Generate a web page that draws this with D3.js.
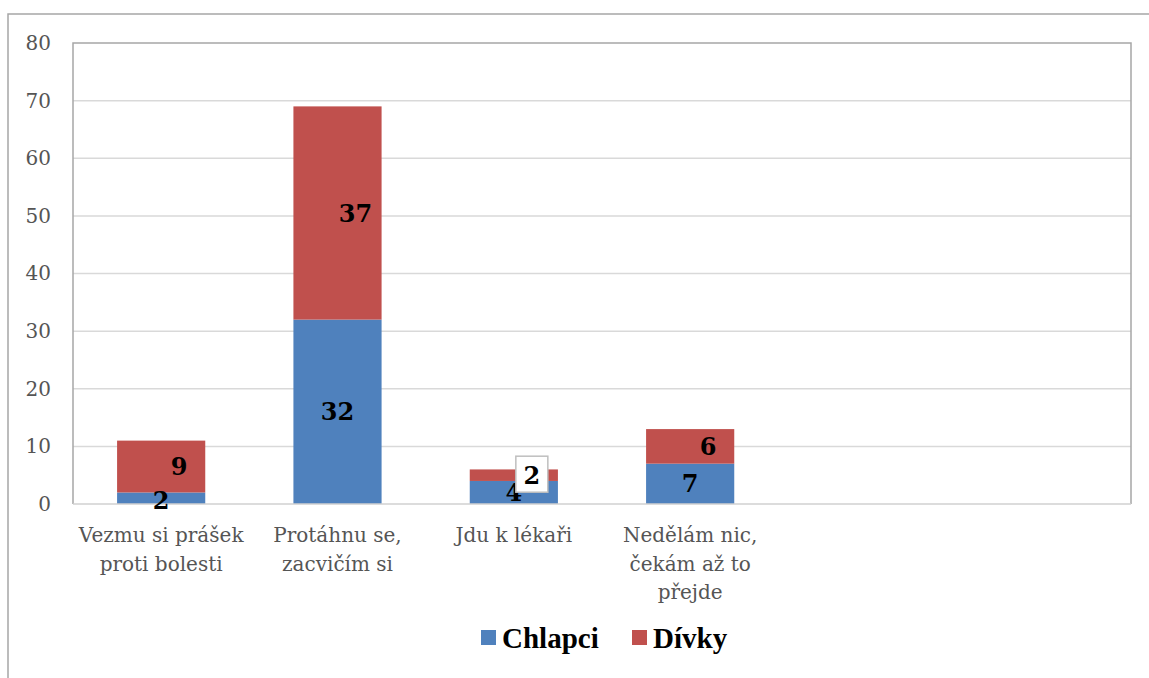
<!DOCTYPE html>
<html>
<head>
<meta charset="utf-8">
<script src="https://cdn.jsdelivr.net/npm/d3@7"></script>
<style>
  body { margin: 0; background: #fff; }
  svg { display: block; }
</style>
</head>
<body>
<script>
// data
var categories = ["Vezmu si prášek proti bolesti", "Protáhnu se, zacvičím si", "Jdu k lékaři", "Nedělám nic, čekám až to přejde", "(prázdné 1)", "(prázdné 2)"];
var tickLines = [["Vezmu si prášek", "proti bolesti"], ["Protáhnu se,", "zacvičím si"], ["Jdu k lékaři"], ["Nedělám nic,", "čekám až to", "přejde"], [], []];
var chlapci = [2, 32, 4, 7];
var divky = [9, 37, 2, 6];
var yTicks = [0, 10, 20, 30, 40, 50, 60, 70, 80];
var seriesNames = ["Chlapci", "Dívky"];
var colors = ["#4f81bd", "#c0504d"];

var width_SVG = 1149, height_SVG = 678;
var plot = {left: 73, top: 43, right: 1131, bottom: 504};

var svg = d3.select("body").append("svg")
    .attr("width", width_SVG)
    .attr("height", height_SVG);

// outer chart frame (only top and left edges visible)
svg.append("path")
    .attr("d", "M8," + height_SVG + "V14H" + width_SVG)
    .attr("fill", "none")
    .attr("stroke", "#a6a6a6")
    .attr("stroke-width", 1.5);

var x = d3.scaleBand()
    .domain(categories)
    .range([plot.left, plot.right])
    .paddingInner(0.5)
    .paddingOuter(0.25);

var y = d3.scaleLinear().domain([0, 80]).range([plot.bottom, plot.top]);

// gridlines
svg.append("g").selectAll("line")
    .data(yTicks.slice(1, -1))
    .enter().append("line")
    .attr("x1", plot.left).attr("x2", plot.right)
    .attr("y1", function(d){ return y(d); })
    .attr("y2", function(d){ return y(d); })
    .attr("stroke", "#d9d9d9")
    .attr("stroke-width", 1.5);

// plot area border
svg.append("path")
    .attr("d", "M" + plot.left + "," + plot.bottom + "V" + plot.top + "H" + plot.right + "V" + plot.bottom)
    .attr("fill", "none")
    .attr("stroke", "#a6a6a6")
    .attr("stroke-width", 1.5);

// y axis labels
var yAxis = d3.axisLeft(y).tickValues(yTicks).tickSize(0).tickPadding(22);
var gy = svg.append("g")
    .attr("transform", "translate(" + plot.left + ",0)")
    .call(yAxis);
gy.select(".domain").remove();
gy.selectAll("text")
    .attr("font-family", "'DejaVu Serif', serif")
    .attr("font-size", 20)
    .attr("fill", "#555");

// stacked data
var rows = chlapci.map(function(c, i){ return {cat: categories[i], Chlapci: c, "Dívky": divky[i]}; });
var stack = d3.stack().keys(seriesNames)(rows);

var layers = svg.append("g").selectAll("g")
    .data(stack)
    .enter().append("g")
    .attr("fill", function(d, i){ return colors[i]; });

layers.selectAll("rect")
    .data(function(d){ return d; })
    .enter().append("rect")
    .attr("x", function(d){ return x(d.data.cat); })
    .attr("width", x.bandwidth())
    .attr("y", function(d){ return y(d[1]); })
    .attr("height", function(d){ return y(d[0]) - y(d[1]); });

// x axis line
svg.append("line")
    .attr("x1", plot.left).attr("x2", plot.right)
    .attr("y1", plot.bottom).attr("y2", plot.bottom)
    .attr("stroke", "#d0d0d0")
    .attr("stroke-width", 1.5);

// data labels
var labelOffset = [0, 18];
stack.forEach(function(layer, si){
    layer.forEach(function(d, i){
        var cx = x(d.data.cat) + x.bandwidth()/2 + labelOffset[si];
        var cy = (y(d[0]) + y(d[1]))/2;
        if (si == 0 && d[1] - d[0] < 3) cy = y(d[0]) - 4;
        var val = d[1] - d[0];
        if (si == 1 && val <= 2) {
            // small segment label shown in a boxed callout
            svg.append("rect")
                .attr("x", cx - 16).attr("y", cy - 19)
                .attr("width", 32).attr("height", 36)
                .attr("fill", "#fff")
                .attr("stroke", "#bfbfbf")
                .attr("stroke-width", 1.5);
        }
        svg.append("text")
            .attr("x", cx).attr("y", cy)
            .attr("dy", "0.36em")
            .attr("text-anchor", "middle")
            .attr("font-family", "'DejaVu Serif', serif")
            .attr("font-weight", "bold")
            .attr("font-size", 24)
            .attr("fill", "#000")
            .text(val);
    });
});

// x category labels
var gx = svg.append("g");
categories.forEach(function(c, i){
    var t = gx.append("text")
        .attr("x", x(c) + x.bandwidth()/2)
        .attr("y", 542)
        .attr("text-anchor", "middle")
        .attr("font-family", "'DejaVu Serif', serif")
        .attr("font-size", 20)
        .attr("fill", "#555");
    tickLines[i].forEach(function(line, j){
        t.append("tspan")
            .attr("x", x(c) + x.bandwidth()/2)
            .attr("dy", j == 0 ? 0 : 28.5)
            .text(line);
    });
});

// legend
var legend = svg.append("g").attr("transform", "translate(481,638)");
var legX = [0, 151];
seriesNames.forEach(function(s, i){
    legend.append("rect")
        .attr("x", legX[i]).attr("y", -8)
        .attr("width", 15).attr("height", 15)
        .attr("fill", colors[i]);
    legend.append("text")
        .attr("x", legX[i] + 21).attr("y", 0)
        .attr("dy", "0.35em")
        .attr("font-family", "'Liberation Serif', 'Times New Roman', serif")
        .attr("font-weight", "bold")
        .attr("font-size", 29)
        .attr("fill", "#000")
        .text(s);
});
</script>
</body>
</html>
